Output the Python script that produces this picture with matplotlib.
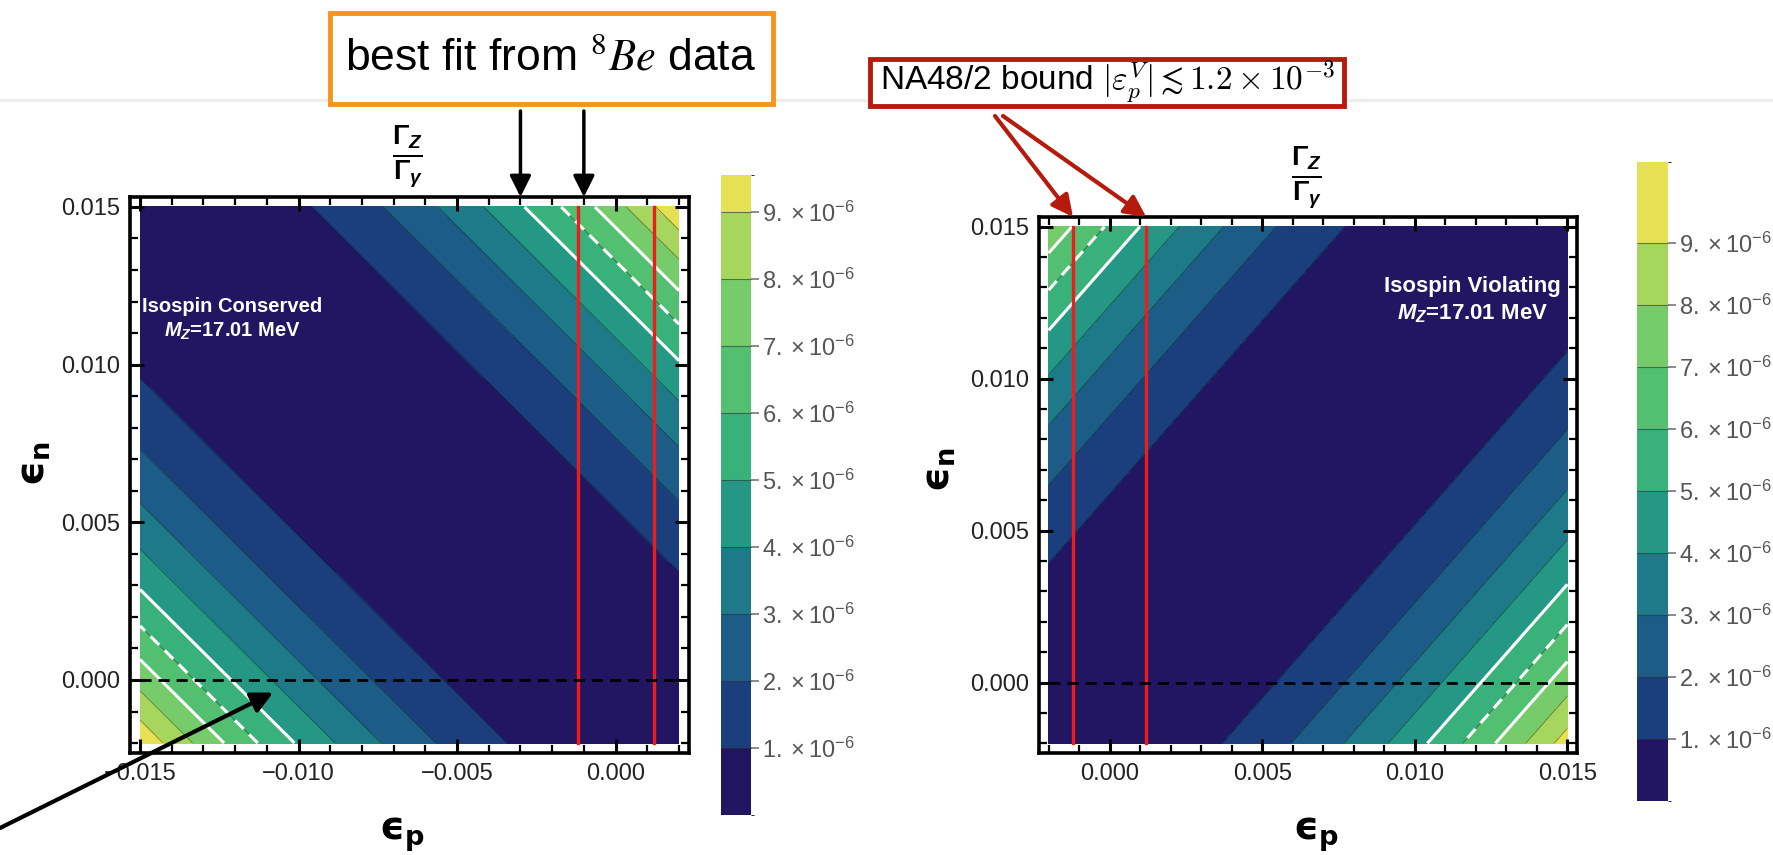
import numpy as np
import matplotlib
matplotlib.use("Agg")
import matplotlib.pyplot as plt
import matplotlib.colorbar as mcolorbar
from matplotlib.colors import ListedColormap, BoundaryNorm
from matplotlib.lines import Line2D
from matplotlib.patches import Rectangle

plt.rcParams["font.family"] = ["Liberation Sans", "DejaVu Sans"]
plt.rcParams["mathtext.fontset"] = "custom"
plt.rcParams["mathtext.rm"] = "Liberation Sans"
plt.rcParams["mathtext.it"] = "Liberation Sans:italic:bold"
plt.rcParams["mathtext.bf"] = "Liberation Sans:bold"

W, H = 1774, 855

# --- plot ranges (eps_p, eps_n)
eps_p_left = [-0.015, 0.002]
eps_p_right = [-0.002, 0.015]
eps_n_range = [-0.002, 0.015]

# --- contour levels of Gamma_Z / Gamma_gamma and band colours
levels = [0.0, 1e-6, 2e-6, 3e-6, 4e-6, 5e-6, 6e-6, 7e-6, 8e-6, 9e-6, 1e-3]
band_colors = ["#221562", "#1a3f7c", "#1d5c86", "#1e7a89", "#259885",
               "#39b17b", "#53bf71", "#76cc6a", "#a6d65d", "#e6e053"]
bar_ticks = [1e-6, 2e-6, 3e-6, 4e-6, 5e-6, 6e-6, 7e-6, 8e-6, 9e-6]
bar_labels = [r"$%d.\times10^{-6}$" % k for k in range(1, 10)]
bar_top_left = 9.55e-6    # legend range ends at the plotted maximum
bar_top_right = 10.3e-6

# best-fit band from 8Be data (white lines: edges solid, centre dashed)
fit_levels = [5e-6, 6e-6, 7e-6]
fit_styles = ["-", (0, (4, 2.5)), "-"]

na48_bound = 1.2e-3          # |eps_p| bound, red lines
bestfit_arrows = [-0.003, -0.001]

# ratio: f = A * (eps_n + k * eps_p)^2
coef_left = (0.0340, 1.0)     # isospin conserved
coef_right = (0.0260, -1.14)  # isospin violating

xticks_left = [-0.015, -0.010, -0.005, 0.000]
xticks_right = [0.000, 0.005, 0.010, 0.015]
yticks = [0.000, 0.005, 0.010, 0.015]


def fr(x0, y0, x1, y1):
    return [x0 / W, 1 - y1 / H, (x1 - x0) / W, (y1 - y0) / H]


def tick_str(v):
    s = "%.3f" % abs(v)
    return ("\u2212" + s) if v < -1e-9 else s


def panel(ax, xr, coef, xticks):
    A, k = coef
    p = np.linspace(xr[0], xr[1], 500)
    n = np.linspace(eps_n_range[0], eps_n_range[1], 500)
    P, N = np.meshgrid(p, n)
    F = A * (N + k * P) ** 2
    ax.contourf(P, N, F, levels=levels, colors=band_colors)
    ax.contour(P, N, F, levels=bar_ticks, colors="k", linewidths=0.6, alpha=0.45)
    ax.contour(P, N, F, levels=fit_levels, colors="white", linewidths=2.2,
               linestyles=fit_styles)
    for x in (-na48_bound, na48_bound):
        ax.plot([x, x], eps_n_range, color="#ee1c1c", lw=2.4)
    ax.plot(xr, [0, 0], color="k", lw=2.0, ls=(0, (4, 2.5)))
    ax.set_xticks(xticks)
    ax.set_xticklabels([tick_str(v) for v in xticks])
    ax.set_yticks(yticks)
    ax.set_yticklabels([tick_str(v) for v in yticks])
    ax.set_xticks(np.arange(round(xr[0] * 1000), round(xr[1] * 1000) + 1) * 1e-3, minor=True)
    ax.set_yticks(np.arange(-2, 16) * 1e-3, minor=True)
    pad = 0.017 * 10 / 538
    ax.set_xlim(xr[0] - pad, xr[1] + pad)
    ax.set_ylim(eps_n_range[0] - pad, eps_n_range[1] + pad)
    ax.tick_params(which="both", direction="in", top=True, right=True,
                   labelsize=17, labelcolor="#222222", pad=7)
    ax.tick_params(which="major", length=10, width=2.2)
    ax.tick_params(which="minor", length=6, width=1.6)
    for s in ax.spines.values():
        s.set_linewidth(2.6)


def colorbar(cax, top):
    edges = [0.0] + bar_ticks + [top]
    cmap = ListedColormap(band_colors)
    norm = BoundaryNorm(edges, cmap.N)
    cb = mcolorbar.ColorbarBase(cax, cmap=cmap, norm=norm, boundaries=edges,
                                ticks=bar_ticks, drawedges=True, spacing="proportional")
    cb.outline.set_visible(False)
    cb.dividers.set_color("#333333")
    cb.dividers.set_linewidth(0.8)
    cb.dividers.set_alpha(0.6)
    cax.set_yticklabels(bar_labels)
    cax.tick_params(length=6, width=1.2, color="#777777", labelsize=17,
                    labelcolor="#555555", pad=2)


fig = plt.figure(figsize=(W / 100, H / 100), dpi=100)

# faint slide separator
fig.add_artist(Line2D([0, 1], [1 - 100 / H, 1 - 100 / H], transform=fig.transFigure,
                      color="#eeeeee", lw=2.5, zorder=0))

axL = fig.add_axes(fr(130, 197, 689, 753))
panel(axL, eps_p_left, coef_left, xticks_left)
axR = fig.add_axes(fr(1039, 217, 1577, 753))
panel(axR, eps_p_right, coef_right, xticks_right)

# colour legends: ticks 1e-6..9e-6 at fixed spacing, top band to the data maximum
colorbar(fig.add_axes(fr(721, 212 - 67 * (bar_top_left / 1e-6 - 9), 751, 815)), bar_top_left)
colorbar(fig.add_axes(fr(1637, 243 - 62 * (bar_top_right / 1e-6 - 9), 1668, 801)), bar_top_right)

# in-plot labels
axL.text(-0.0121, 0.01143, "Isospin Conserved\n$M_Z$=17.01 MeV", color="white",
         fontsize=14.5, fontweight="bold", ha="center", va="center", linespacing=1.35)
axR.text(0.0119, 0.01257, "Isospin Violating\n$M_Z$=17.01 MeV", color="white",
         fontsize=16, fontweight="bold", ha="center", va="center", linespacing=1.3)

frac = r"$\frac{\mathbf{\Gamma}_{Z}}{\mathbf{\Gamma}_{\gamma}}$"
fig.text(408 / W, 1 - 157 / H, frac, fontsize=28, ha="center", va="center")
fig.text(1307 / W, 1 - 178 / H, frac, fontsize=28, ha="center", va="center")

lab_p = "\u03f5$_\\mathbf{p}$"
lab_n = "\u03f5$_\\mathbf{n}$"
kw = dict(fontsize=28, fontweight="bold", family="DejaVu Sans", ha="center", va="center",
          math_fontfamily="dejavusans")
fig.text(402 / W, 1 - 835 / H, lab_p, **kw)
fig.text(1316 / W, 1 - 835 / H, lab_p, **kw)
fig.text(34 / W, 1 - 464 / H, lab_n, rotation=90, **kw)
fig.text(939 / W, 1 - 470 / H, lab_n, rotation=90, **kw)

# annotation boxes
fig.add_artist(Rectangle((330 / W, 1 - 104 / H), 443 / W, 91 / H, transform=fig.transFigure,
                         fill=True, facecolor="white", edgecolor="#f7941d", lw=3.5, zorder=5))
fig.text(551 / W, 1 - 58 / H, r"best fit from $^{8}Be$ data", fontsize=32,
         ha="center", va="center", math_fontfamily="stix", zorder=6)
fig.add_artist(Rectangle((870 / W, 1 - 106 / H), 474 / W, 47 / H, transform=fig.transFigure,
                         fill=True, facecolor="white", edgecolor="#b51a0c", lw=3.5, zorder=5))
fig.text(1107 / W, 1 - 82 / H, r"NA48/2 bound $|\varepsilon_p^V|\lesssim1.2\times10^{-3}$",
         fontsize=24, ha="center", va="center", math_fontfamily="cm", zorder=6)

# arrows (tails placed in figure pixels, tips on the plot frame)
fig.canvas.draw()
for x in bestfit_arrows:
    x_pix = axL.transData.transform((x, 0))[0]
    axL.annotate("", xy=(x, 1.0), xycoords=("data", "axes fraction"),
                 xytext=(x_pix, H - 111), textcoords="figure pixels",
                 arrowprops=dict(arrowstyle="-|>", mutation_scale=32, lw=2.5, color="k",
                                 shrinkA=0, shrinkB=0), annotation_clip=False)
for x, x0 in zip((-na48_bound, na48_bound), (995, 1003)):
    axR.annotate("", xy=(x, 1.0), xycoords=("data", "axes fraction"),
                 xytext=(x0, H - 116), textcoords="figure pixels",
                 arrowprops=dict(arrowstyle="-|>", mutation_scale=32, lw=3, color="#b51a0c",
                                 shrinkA=0, shrinkB=0), annotation_clip=False)
axL.annotate("", xy=(-0.0108, -0.0004), xycoords="data",
             xytext=(0, H - 828), textcoords="figure pixels",
             arrowprops=dict(arrowstyle="-|>", mutation_scale=32, lw=3, color="k",
                             shrinkA=0, shrinkB=0), annotation_clip=False)

fig.savefig("out.png", dpi=100)
